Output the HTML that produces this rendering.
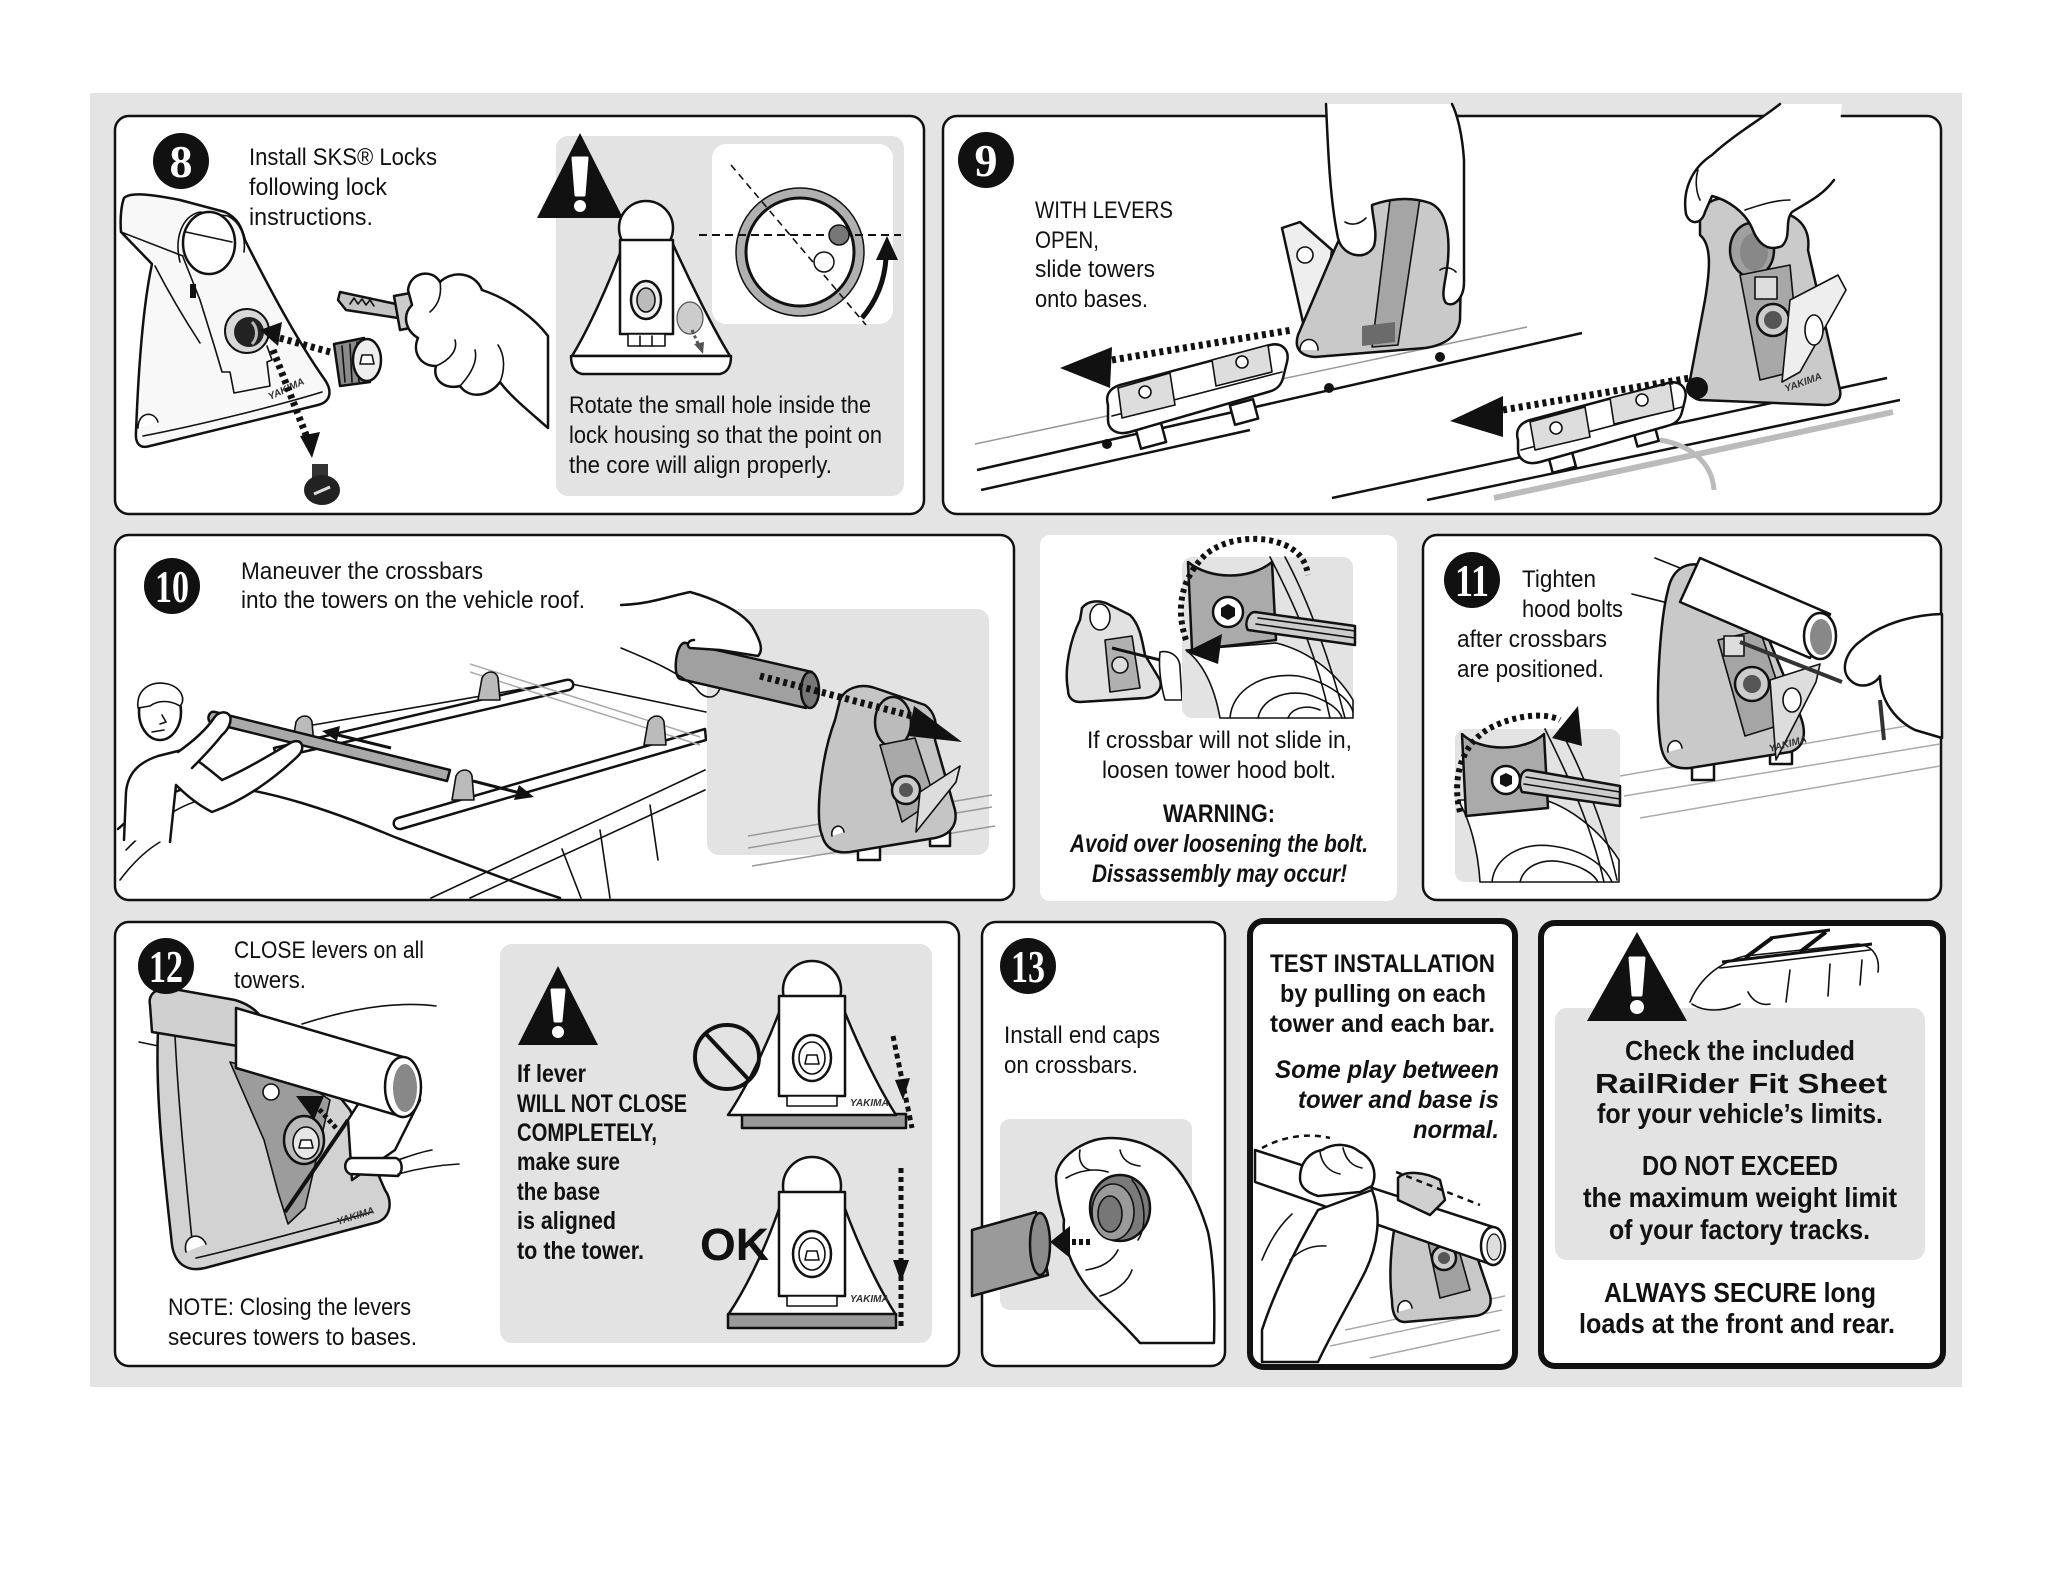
<!DOCTYPE html>
<html>
<head>
<meta charset="utf-8">
<style>
html,body{margin:0;padding:0;background:#fff;}
svg{display:block;}
text{font-family:"Liberation Sans Narrow","Liberation Sans",Arial,sans-serif;fill:#111;}
.t{font-size:24px;}
.tb{font-size:25px;font-weight:bold;}
.ti{font-size:25px;font-weight:bold;font-style:italic;}
.ck{font-size:28px;font-weight:bold;}
.bd{font-family:"Liberation Serif",serif;font-weight:bold;fill:#fff;font-size:46px;}
.s{stroke:#111;stroke-width:2.5;stroke-linejoin:round;stroke-linecap:round;}
.s1{stroke:#111;stroke-width:1.6;stroke-linejoin:round;stroke-linecap:round;}
.dot{stroke:#111;stroke-width:7;stroke-dasharray:4 4;fill:none;}
.yk{font-family:"Liberation Sans",sans-serif;font-size:10px;font-weight:bold;font-style:italic;fill:#333;}
</style>
</head>
<body>
<svg xmlns="http://www.w3.org/2000/svg" width="2048" height="1583" viewBox="0 0 2048 1583">
<rect x="0" y="0" width="2048" height="1583" fill="#fff"/>
<rect x="90" y="93" width="1872" height="1294" fill="#e4e4e4"/>

<!-- ================= PANEL 8 ================= -->
<rect x="115" y="116" width="809" height="398" rx="14" fill="#fff" class="s" stroke-width="3"/>
<circle cx="181" cy="161" r="28" fill="#111"/>
<text class="bd" x="181" y="177" text-anchor="middle">8</text>

<!-- tower left -->
<path class="s" fill="#f8f8f8" d="M124,198 C130,192 150,194 180,200 L225,212 C238,218 242,228 245,240 C270,290 300,345 325,380 C333,392 330,402 318,405 L150,446 C140,449 135,444 136,432 C138,380 142,310 152,264 L121,232 C120,220 121,206 124,198 Z"/>
<path class="s1" fill="none" d="M121,232 L183,256"/>
<path class="s1" fill="none" d="M180,262 C174,238 182,216 200,212 L228,216 C240,222 246,236 244,252"/>
<ellipse class="s" cx="209" cy="243" rx="26" ry="31" fill="#fff"/>
<path class="s1" fill="none" d="M186,232 L232,242"/>
<path class="s1" fill="none" d="M155,266 C170,295 185,320 200,343"/>
<path class="s1" fill="none" d="M183,257 L200,300 L214,345 L222,372 L230,372 L234,393 L270,386 L267,362 L272,360 L267,346"/>
<rect x="190" y="284" width="6" height="14" fill="#111"/>
<path class="s1" fill="none" d="M143,436 C200,425 280,405 322,392"/>
<path class="s1" fill="#fff" d="M138,428 C138,412 154,410 158,422"/>
<circle cx="247" cy="331" r="22" fill="#d8d8d8" stroke="#111" stroke-width="2"/>
<circle cx="249" cy="332" r="15" fill="#222"/>
<path d="M252,322 C258,328 258,338 252,344" stroke="#bbb" stroke-width="3" fill="none"/>
<text class="yk" x="270" y="400" font-size="11" transform="rotate(-25 270 400)">YAKIMA</text>
<!-- dotted arrows -->
<line class="dot" x1="330" y1="352" x2="276" y2="337"/>
<polygon points="260,330 282,322 278,346" fill="#111"/>
<line class="dot" x1="273" y1="350" x2="308" y2="440"/>
<polygon points="312,458 300,436 320,432" fill="#111"/>
<!-- lock cylinder -->
<path class="s" fill="#8a8a8a" d="M334,344 L364,338 L370,382 L340,386 Z"/>
<path class="s1" fill="none" d="M342,346 L345,382 M350,344 L352,382 M357,342 L359,382"/>
<ellipse class="s" cx="367" cy="360" rx="14" ry="21" fill="#eee"/>
<path class="s1" fill="#fff" d="M360,364 L362,355 L372,355 L374,364 Z"/>
<!-- black knob -->
<rect x="312" y="464" width="16" height="18" fill="#333"/>
<ellipse cx="322" cy="490" rx="18" ry="15" fill="#222"/>
<line x1="314" y1="494" x2="330" y2="487" stroke="#ddd" stroke-width="3"/>
<!-- key -->
<path class="s" fill="#c4c4c4" d="M340,292 L396,304 L398,318 L346,310 L338,300 Z"/>
<path class="s1" fill="none" d="M350,304 L354,298 L358,304 L362,299 L366,305 L370,300 L374,306"/>
<path class="s" fill="#ccc" d="M394,296 L416,292 L420,326 L400,330 Z"/>
<!-- hand -->
<path class="s" fill="#fff" d="M408,290 C410,272 432,268 440,282 C452,270 475,272 482,290 C512,300 536,320 548,336 L548,428 C530,412 510,396 500,382 C490,396 470,400 460,386 C445,390 432,380 436,366 C420,366 412,352 418,338 C405,330 402,315 412,305 Z"/>
<path class="s1" fill="none" d="M436,366 C450,360 458,350 455,340 M460,386 C470,375 478,362 475,350 M500,382 C505,370 505,355 498,345 M440,282 C442,295 438,305 430,312"/>

<text class="t" x="249" y="165" textLength="188" lengthAdjust="spacingAndGlyphs">Install  SKS® Locks</text>
<text class="t" x="249" y="195" textLength="138" lengthAdjust="spacingAndGlyphs">following lock</text>
<text class="t" x="249" y="225" textLength="124" lengthAdjust="spacingAndGlyphs">instructions.</text>

<!-- inset -->
<rect x="556" y="136" width="348" height="360" rx="12" fill="#e3e3e3"/>
<polygon points="580,133 623,218 537,218" fill="#111"/>
<polygon points="573,158 587,158 584,195 576,195" fill="#fff" stroke="#fff" stroke-width="3" stroke-linejoin="round"/>
<circle cx="580" cy="206" r="6" fill="#fff"/>
<!-- front tower -->
<path class="s" fill="#fff" d="M624,242 C610,282 588,330 572,356 L730,356 C714,330 690,282 672,242 Z"/>
<circle class="s" cx="646" cy="228" r="27" fill="#fff"/>
<rect class="s" x="620" y="240" width="53" height="94" fill="#fff"/>
<rect class="s1" x="628" y="334" width="37" height="12" fill="#fff"/>
<path class="s1" fill="none" d="M640,336 L640,346 M652,336 L652,346"/>
<ellipse class="s" cx="646" cy="300" rx="15" ry="19" fill="#eee"/>
<ellipse class="s1" cx="646" cy="300" rx="9" ry="12" fill="#bbb"/>
<path class="s" fill="#fff" d="M571,356 L731,356 C731,366 728,372 720,374 L582,374 C574,372 571,366 571,356 Z"/>
<ellipse cx="690" cy="318" rx="13" ry="16" fill="#ccc" stroke="#555" stroke-width="1.2"/>
<path d="M692,330 L700,348" stroke="#555" stroke-width="3" stroke-dasharray="3 3"/>
<polygon points="703,354 694,344 704,342" fill="#555"/>
<!-- white inset -->
<rect x="712" y="144" width="181" height="180" rx="14" fill="#fff"/>
<circle cx="800" cy="252" r="64" fill="#b0b0b0" stroke="#111" stroke-width="1.5"/>
<circle cx="800" cy="252" r="54" fill="#fff" stroke="#111" stroke-width="3"/>
<line x1="699" y1="235" x2="901" y2="235" stroke="#111" stroke-width="2" stroke-dasharray="8 5"/>
<line x1="731" y1="165" x2="866" y2="325" stroke="#111" stroke-width="1.6" stroke-dasharray="7 5"/>
<circle cx="839" cy="235" r="10" fill="#777" stroke="#111" stroke-width="1.5"/>
<circle cx="824" cy="262" r="10" fill="#fff" stroke="#111" stroke-width="1.5"/>
<path d="M862,318 Q884,292 886,258" stroke="#111" stroke-width="5" fill="none"/>
<polygon points="887,236 876,260 898,260" fill="#111"/>
<text class="t" x="569" y="413" textLength="302" lengthAdjust="spacingAndGlyphs">Rotate the small hole inside the</text>
<text class="t" x="569" y="443" textLength="313" lengthAdjust="spacingAndGlyphs">lock housing so that the point on</text>
<text class="t" x="569" y="473" textLength="263" lengthAdjust="spacingAndGlyphs">the core will align properly.</text>

<!-- ================= PANEL 9 ================= -->
<rect x="943" y="116" width="998" height="398" rx="14" fill="#fff" class="s" stroke-width="3"/>
<circle cx="986" cy="160" r="28" fill="#111"/>
<text class="bd" x="986" y="176" text-anchor="middle">9</text>
<text class="t" x="1035" y="218" textLength="138" lengthAdjust="spacingAndGlyphs">WITH LEVERS</text>
<text class="t" x="1035" y="248" textLength="64" lengthAdjust="spacingAndGlyphs">OPEN,</text>
<text class="t" x="1035" y="277" textLength="120" lengthAdjust="spacingAndGlyphs">slide towers</text>
<text class="t" x="1035" y="307" textLength="113" lengthAdjust="spacingAndGlyphs">onto bases.</text>
<!-- rails -->
<line x1="975" y1="444" x2="1527" y2="327" stroke="#999" stroke-width="1.5"/>
<line x1="977" y1="470" x2="1582" y2="333" stroke="#111" stroke-width="2.5"/>
<line x1="981" y1="490" x2="1250" y2="430" stroke="#111" stroke-width="2.5"/>
<line x1="1332" y1="498" x2="1887" y2="378" stroke="#111" stroke-width="2.5"/>
<line x1="1427" y1="500" x2="1900" y2="400" stroke="#111" stroke-width="2.5"/>
<line x1="1494" y1="498" x2="1893" y2="412" stroke="#bbb" stroke-width="6"/>
<path d="M1660,440 C1690,445 1712,462 1714,490" stroke="#bbb" stroke-width="5" fill="none"/>
<circle cx="1107" cy="444" r="5" fill="#111"/>
<circle cx="1329" cy="388" r="5" fill="#111"/>
<circle cx="1440" cy="357" r="5" fill="#111"/>
<!-- base 1 -->
<rect class="s" x="1138" y="426" width="26" height="20" fill="#fff" transform="rotate(-15 1150 436)"/>
<rect class="s" x="1232" y="402" width="24" height="20" fill="#fff" transform="rotate(-15 1244 412)"/>
<path class="s" fill="#fff" d="M1108,405 C1105,395 1110,388 1120,385 L1270,345 C1282,342 1290,350 1287,362 L1283,378 C1281,386 1276,390 1268,392 L1130,432 C1115,436 1108,428 1108,420 Z"/>
<path class="s1" fill="none" d="M1112,416 L1282,372"/>
<polygon class="s1" points="1118,388 1170,373 1175,405 1122,418" fill="#ddd"/>
<polygon class="s1" points="1212,360 1268,345 1272,372 1216,386" fill="#ddd"/>
<circle class="s1" cx="1145" cy="392" r="6" fill="#fff"/>
<circle class="s1" cx="1242" cy="362" r="6" fill="#fff"/>
<line class="dot" x1="1112" y1="360" x2="1292" y2="330"/>
<polygon points="1060,368 1112,347 1110,388" fill="#111"/>
<!-- tower 1 -->
<path class="s" fill="#eee" d="M1282,228 L1300,222 L1332,250 L1322,330 L1306,336 Z"/>
<circle class="s1" cx="1305" cy="255" r="8" fill="#fff"/>
<path class="s" fill="#c9c9c9" d="M1298,335 L1330,260 C1345,225 1360,195 1375,188 L1420,186 C1445,188 1460,200 1462,220 L1460,320 C1458,336 1445,345 1425,348 L1315,357 C1300,356 1294,348 1298,335 Z"/>
<polygon class="s1" points="1390,200 1420,198 1398,345 1372,347" fill="#a5a5a5"/>
<polygon points="1362,326 1395,322 1395,342 1362,346" fill="#6b6b6b"/>
<path class="s1" fill="#fff" d="M1300,350 C1300,336 1318,336 1318,350"/>
<!-- hand 1 -->
<path fill="#fff" d="M1326,104 C1328,150 1330,200 1338,238 C1342,256 1366,262 1374,246 C1378,232 1372,216 1372,205 C1392,198 1412,197 1430,203 C1446,210 1450,232 1448,260 C1446,282 1440,295 1446,303 C1454,308 1464,298 1464,282 L1464,160 C1462,130 1456,112 1452,104 Z"/>
<path class="s" fill="none" d="M1326,104 C1328,150 1330,200 1338,238 C1342,256 1366,262 1374,246 C1378,232 1372,216 1372,205 C1392,198 1412,197 1430,203 C1446,210 1450,232 1448,260 C1446,282 1440,295 1446,303 C1454,308 1464,298 1464,282 L1464,160 C1462,130 1456,112 1452,104"/>
<path class="s1" fill="none" d="M1345,222 C1352,226 1360,224 1366,218 M1440,270 C1446,266 1452,268 1456,272"/>
<!-- base 2 -->
<rect class="s" x="1550" y="452" width="24" height="18" fill="#fff" transform="rotate(-15 1562 461)"/>
<rect class="s" x="1635" y="428" width="22" height="16" fill="#fff" transform="rotate(-15 1646 436)"/>
<path class="s" fill="#fff" d="M1518,440 C1515,430 1520,423 1530,420 L1668,383 C1680,380 1688,388 1685,400 L1682,412 C1680,420 1675,424 1667,426 L1540,462 C1525,466 1518,458 1518,450 Z"/>
<path class="s1" fill="none" d="M1521,450 L1682,407"/>
<polygon class="s1" points="1530,422 1585,407 1590,437 1535,450" fill="#ddd"/>
<polygon class="s1" points="1610,398 1670,383 1674,410 1614,424" fill="#ddd"/>
<circle class="s1" cx="1556" cy="428" r="6" fill="#fff"/>
<circle class="s1" cx="1642" cy="400" r="6" fill="#fff"/>
<line class="dot" x1="1503" y1="410" x2="1690" y2="378"/>
<polygon points="1450,421 1503,396 1503,437" fill="#111"/>
<!-- tower 2 -->
<path class="s" fill="#cacaca" d="M1700,400 C1690,398 1688,390 1690,380 L1705,300 C1710,270 1712,245 1700,235 L1700,215 C1705,200 1720,195 1740,200 L1790,215 C1805,222 1810,235 1808,250 L1840,390 C1842,400 1835,405 1825,405 Z"/>
<ellipse class="s" cx="1752" cy="250" rx="22" ry="27" fill="#a0a0a0"/>
<ellipse cx="1754" cy="252" rx="14" ry="19" fill="#888"/>
<polygon class="s1" points="1740,275 1790,265 1800,370 1760,380" fill="#a8a8a8"/>
<rect class="s1" x="1755" y="277" width="22" height="22" fill="#ddd"/>
<circle class="s" cx="1773" cy="320" r="16" fill="#ccc"/>
<circle cx="1773" cy="320" r="9" fill="#555"/>
<polygon class="s1" points="1790,300 1838,275 1846,290 1800,372 1782,382" fill="#eee"/>
<ellipse class="s1" cx="1814" cy="330" rx="9" ry="15" fill="#fff"/>
<circle cx="1697" cy="388" r="11" fill="#111"/>
<text class="yk" x="1786" y="392" transform="rotate(-20 1786 392)">YAKIMA</text>
<!-- hand 2 -->
<path fill="#fff" d="M1780,104 C1760,120 1732,136 1712,155 C1692,168 1682,190 1686,214 C1690,226 1702,224 1705,212 L1712,196 C1728,200 1745,212 1752,228 C1758,244 1768,252 1782,246 C1792,236 1784,222 1792,212 C1808,202 1822,196 1834,180 L1842,104 Z"/>
<path class="s" fill="none" d="M1780,104 C1760,120 1732,136 1712,155 C1692,168 1682,190 1686,214 C1690,226 1702,224 1705,212 L1712,196 C1728,200 1745,212 1752,228 C1758,244 1768,252 1782,246 C1792,236 1784,222 1792,212 C1808,202 1822,196 1834,180"/>
<path class="s1" fill="none" d="M1698,170 C1695,180 1696,192 1700,200 M1745,210 C1760,205 1775,200 1790,200"/>

<!-- ================= PANEL 10 ================= -->
<rect x="115" y="535" width="899" height="365" rx="14" fill="#fff" class="s" stroke-width="3"/>
<circle cx="172" cy="586" r="28" fill="#111"/>
<text class="bd" x="155" y="602" font-size="44" textLength="34" lengthAdjust="spacingAndGlyphs">10</text>
<text class="t" x="241" y="579" textLength="242" lengthAdjust="spacingAndGlyphs">Maneuver the crossbars</text>
<text class="t" x="241" y="608" textLength="344" lengthAdjust="spacingAndGlyphs">into the towers on the vehicle roof.</text>
<!-- car -->
<path class="s" fill="none" d="M118,829 C150,800 180,786 209,784 C270,790 330,810 392,836 C460,862 520,885 560,898"/>
<path class="s1" fill="none" d="M126,850 C160,815 190,800 212,798 M313,725 L562,682 L706,712 M431,898 L705,770 M470,898 L705,790 M562,849 L581,898 M600,830 L610,898 M650,805 L658,860 M120,880 C135,860 150,848 160,842"/>
<!-- rails -->
<path class="s" fill="#fff" d="M274,748 L566,680 C574,678 576,688 569,690 L277,758 Z"/>
<path class="s" fill="#fff" d="M398,818 L705,729 L706,740 L401,829 C393,830 391,820 398,818 Z"/>
<line x1="470" y1="664" x2="700" y2="737" stroke="#aaa" stroke-width="1.5"/>
<line x1="470" y1="672" x2="700" y2="745" stroke="#aaa" stroke-width="1.5"/>
<!-- small towers -->
<path class="s1" fill="#bbb" d="M478,700 L482,678 C486,670 496,670 498,678 L500,700 Z"/>
<path class="s1" fill="#bbb" d="M644,745 L648,722 C652,714 662,714 664,722 L666,745 Z"/>
<path class="s1" fill="#bbb" d="M452,800 L456,776 C460,768 470,768 472,776 L474,800 Z"/>
<path class="s1" fill="#bbb" d="M292,745 L296,722 C300,714 310,714 312,722 L314,745 Z"/>
<!-- crossbar held -->
<path class="s" fill="#a9a9a9" d="M215,712 L450,770 L447,781 L212,723 C206,722 208,710 215,712 Z"/>
<!-- arrows -->
<line x1="391" y1="748" x2="334" y2="734" stroke="#111" stroke-width="3"/>
<polygon points="322,731 340,726 337,741" fill="#111"/>
<line x1="473" y1="781" x2="520" y2="793" stroke="#111" stroke-width="3"/>
<polygon points="534,797 514,800 519,785" fill="#111"/>
<!-- person -->
<path class="s" fill="#fff" d="M124,840 L126,792 C128,772 140,762 158,756 L182,750 C195,758 210,770 222,780 C245,770 270,755 292,742 C302,738 306,748 298,756 C275,778 245,800 212,812 C198,805 186,795 176,785 L170,842"/>
<path class="s" fill="#fff" d="M178,752 C192,742 206,730 214,718 C218,712 226,710 230,716 C232,722 228,730 222,735 C212,748 202,758 192,768"/>
<ellipse class="s" cx="160" cy="712" rx="21" ry="28" fill="#fff"/>
<path class="s1" fill="#fff" d="M138,708 C136,690 150,680 168,684 C182,688 186,700 180,706 C170,700 158,700 150,706 Z"/>
<path class="s1" fill="none" d="M162,715 L166,722 L160,724 M152,732 L164,730"/>
<!-- inset -->
<rect x="707" y="609" width="282" height="246" rx="12" fill="#e3e3e3"/>
<line x1="748" y1="836" x2="992" y2="795" stroke="#999" stroke-width="1.5"/>
<line x1="748" y1="848" x2="992" y2="807" stroke="#999" stroke-width="1.5"/>
<line x1="752" y1="866" x2="995" y2="826" stroke="#999" stroke-width="1.5"/>
<rect class="s" x="858" y="846" width="22" height="14" fill="#fff"/>
<rect class="s" x="930" y="832" width="20" height="14" fill="#fff"/>
<path class="s" fill="#c5c5c5" d="M822,835 C815,820 820,760 835,720 L840,700 C845,688 860,683 875,688 L925,705 C935,712 938,725 935,740 L955,810 C958,825 950,835 935,838 L850,852 C835,854 825,848 822,835 Z"/>
<ellipse class="s" cx="893" cy="722" rx="18" ry="25" fill="#bbb"/>
<polygon class="s1" points="880,745 915,738 935,800 902,822" fill="#a9a9a9"/>
<circle class="s" cx="906" cy="790" r="14" fill="#ccc"/>
<circle cx="906" cy="790" r="7" fill="#555"/>
<polygon class="s1" points="920,792 960,766 956,782 916,832" fill="#ddd"/>
<path class="s1" fill="#fff" d="M832,836 C830,826 842,822 844,832"/>
<!-- held tube -->
<path class="s" fill="#a0a0a0" d="M686,643 L812,672 L806,708 L680,679 C672,676 676,640 686,643 Z"/>
<ellipse class="s" cx="810" cy="690" rx="9" ry="18" fill="#777"/>
<line class="dot" x1="760" y1="676" x2="912" y2="716" stroke-width="6"/>
<polygon points="962,742 914,706 908,736" fill="#111"/>
<!-- hands -->
<path class="s" fill="#fff" d="M621,605 C650,604 670,596 690,592 C712,598 740,610 752,626 C760,640 764,650 758,656 L720,650 L690,648 C686,646 688,640 694,640"/>
<path class="s1" fill="none" d="M621,648 C650,660 678,672 696,688 C704,700 716,700 720,688"/>

<!-- ================= MIDDLE BOX ================= -->
<rect x="1040" y="535" width="357" height="366" rx="10" fill="#fff"/>
<path class="s" fill="#e2e2e2" d="M1068,690 C1064,670 1070,640 1080,620 L1082,608 C1088,600 1100,600 1108,604 L1130,615 C1140,625 1142,640 1145,655 L1160,680 C1163,690 1155,697 1145,698 L1080,702 C1072,702 1068,697 1068,690 Z"/>
<ellipse class="s1" cx="1100" cy="617" rx="10" ry="13" fill="#fff"/>
<polygon class="s1" points="1105,640 1132,636 1140,688 1110,692" fill="#b0b0b0"/>
<circle class="s1" cx="1120" cy="665" r="8" fill="#ddd"/>
<line x1="1112" y1="648" x2="1168" y2="662" stroke="#111" stroke-width="3"/>
<path class="s1" fill="#fff" d="M1160,652 C1170,650 1180,656 1180,668 L1182,700 L1165,700 C1162,690 1158,670 1160,652 Z"/>
<rect x="1182" y="557" width="171" height="161" rx="10" fill="#e3e3e3"/>
<path class="s1" fill="#fff" d="M1186,650 C1205,665 1215,690 1220,718 L1353,718 L1353,700 C1335,670 1305,650 1276,643 Z"/>
<path class="s1" fill="none" d="M1230,718 C1232,690 1262,672 1298,676 C1330,682 1350,700 1353,712 M1258,718 C1262,700 1282,690 1306,694 C1328,700 1340,710 1342,718 M1288,718 C1292,708 1306,704 1320,710"/>
<path class="s1" fill="none" d="M1270,557 C1292,600 1316,650 1330,718 M1285,557 C1308,600 1330,660 1345,718"/>
<path class="s" fill="#aaa" d="M1188,562 C1210,580 1250,580 1272,562 L1276,640 L1192,650 Z"/>
<circle class="s" cx="1228" cy="612" r="15" fill="#fff"/>
<polygon points="1228,604 1235,608 1235,616 1228,620 1221,616 1221,608" fill="#111"/>
<path class="s" fill="#ccc" d="M1255,612 L1355,626 L1355,645 L1248,630 C1244,624 1248,612 1255,612 Z"/>
<path class="s1" fill="none" d="M1258,618 L1355,631 M1256,624 L1355,638"/>
<path d="M1186,640 C1176,610 1180,580 1205,555 C1225,538 1260,534 1285,545 C1300,552 1306,562 1308,575" stroke="#111" stroke-width="6" stroke-dasharray="4 4" fill="none"/>
<polygon points="1186,652 1222,634 1218,664" fill="#111"/>
<text class="t" x="1087" y="748" textLength="265" lengthAdjust="spacingAndGlyphs">If crossbar will not slide in,</text>
<text class="t" x="1102" y="778" textLength="234" lengthAdjust="spacingAndGlyphs">loosen tower hood bolt.</text>
<text class="tb" x="1163" y="822" textLength="112" lengthAdjust="spacingAndGlyphs">WARNING:</text>
<text class="ti" x="1070" y="852" textLength="298" lengthAdjust="spacingAndGlyphs">Avoid over loosening the bolt.</text>
<text class="ti" x="1092" y="882" textLength="255" lengthAdjust="spacingAndGlyphs">Dissassembly may occur!</text>

<!-- ================= PANEL 11 ================= -->
<rect x="1423" y="535" width="518" height="365" rx="14" fill="#fff" class="s" stroke-width="3"/>
<circle cx="1472" cy="580" r="28" fill="#111"/>
<text class="bd" x="1455" y="596" font-size="44" textLength="34" lengthAdjust="spacingAndGlyphs">11</text>
<text class="t" x="1522" y="587" textLength="74" lengthAdjust="spacingAndGlyphs">Tighten</text>
<text class="t" x="1522" y="617" textLength="101" lengthAdjust="spacingAndGlyphs">hood bolts</text>
<text class="t" x="1457" y="647" textLength="150" lengthAdjust="spacingAndGlyphs">after crossbars</text>
<text class="t" x="1457" y="677" textLength="147" lengthAdjust="spacingAndGlyphs">are positioned.</text>
<line x1="1620" y1="776" x2="1940" y2="720" stroke="#aaa" stroke-width="1.5"/>
<line x1="1624" y1="796" x2="1940" y2="744" stroke="#aaa" stroke-width="1.5"/>
<line x1="1640" y1="818" x2="1940" y2="766" stroke="#aaa" stroke-width="1.5"/>
<rect class="s" x="1692" y="764" width="22" height="16" fill="#fff"/>
<rect class="s" x="1770" y="748" width="22" height="16" fill="#fff"/>
<path class="s1" fill="none" d="M1655,558 L1700,576 M1632,594 L1680,606"/>
<path class="s" fill="#c9c9c9" d="M1660,740 C1655,700 1660,620 1668,590 C1672,570 1685,562 1700,565 L1745,580 C1760,590 1765,610 1765,630 L1800,715 C1808,735 1803,748 1790,752 L1690,768 C1670,770 1662,760 1660,740 Z"/>
<polygon class="s1" points="1718,640 1760,630 1790,722 1745,736" fill="#a5a5a5"/>
<rect class="s1" x="1724" y="636" width="20" height="20" fill="#ddd"/>
<circle class="s" cx="1752" cy="684" r="17" fill="#ccc"/>
<circle cx="1752" cy="684" r="9" fill="#555"/>
<polygon class="s1" points="1770,680 1820,664 1816,682 1776,760" fill="#ddd"/>
<ellipse class="s1" cx="1792" cy="700" rx="9" ry="12" fill="#fff"/>
<path class="s1" fill="#fff" d="M1668,752 C1666,740 1680,736 1682,748"/>
<text class="yk" x="1770" y="752" transform="rotate(-15 1770 752)">YAKIMA</text>
<path class="s" fill="#fff" d="M1700,558 L1830,614 L1810,658 L1680,602 Z"/>
<ellipse class="s" cx="1820" cy="636" rx="16" ry="23" fill="#fff"/>
<ellipse cx="1821" cy="637" rx="11" ry="18" fill="#888"/>
<line x1="1740" y1="642" x2="1842" y2="682" stroke="#333" stroke-width="4"/>
<path class="s" fill="#fff" d="M1942,614 C1910,615 1880,625 1862,640 C1845,652 1840,670 1850,680 C1860,690 1875,685 1880,676 C1880,700 1895,720 1915,730 L1942,738 Z"/>
<line x1="1880" y1="700" x2="1884" y2="740" stroke="#333" stroke-width="4"/>
<!-- inset -->
<rect x="1455" y="729" width="165" height="153" rx="10" fill="#e3e3e3"/>
<path class="s1" fill="#fff" d="M1458,800 C1470,820 1478,850 1480,882 L1619,882 L1619,860 C1600,830 1570,808 1545,800 Z"/>
<path class="s1" fill="none" d="M1492,882 C1494,858 1520,842 1552,846 C1585,850 1605,866 1612,882 M1520,882 C1524,866 1542,858 1562,862 C1582,866 1594,874 1598,882"/>
<path class="s1" fill="none" d="M1545,729 C1565,770 1590,820 1604,882 M1560,729 C1582,770 1606,830 1617,880"/>
<path class="s" fill="#aaa" d="M1462,734 C1480,752 1525,752 1544,734 L1548,808 L1466,816 Z"/>
<circle class="s" cx="1506" cy="780" r="14" fill="#fff"/>
<polygon points="1506,773 1512,776 1512,784 1506,787 1500,784 1500,776" fill="#111"/>
<path class="s" fill="#ccc" d="M1528,770 L1620,786 L1620,806 L1522,792 C1518,784 1520,770 1528,770 Z"/>
<path class="s1" fill="none" d="M1526,777 L1620,792 M1524,784 L1620,799"/>
<path d="M1460,812 C1452,780 1460,745 1490,728 C1515,715 1545,712 1560,720" stroke="#111" stroke-width="6" stroke-dasharray="4 4" fill="none"/>
<polygon points="1578,706 1552,738 1582,746" fill="#111"/>

<!-- ================= PANEL 12 ================= -->
<rect x="115" y="922" width="844" height="444" rx="14" fill="#fff" class="s" stroke-width="3"/>
<text class="t" x="234" y="958" textLength="190" lengthAdjust="spacingAndGlyphs">CLOSE levers on all</text>
<text class="t" x="234" y="988" textLength="72" lengthAdjust="spacingAndGlyphs">towers.</text>
<!-- tower -->
<path class="s1" fill="none" d="M139,1042 L236,1062"/>
<path class="s" fill="#d2d2d2" d="M158,1030 C155,1100 165,1180 172,1245 C175,1265 188,1272 205,1268 L378,1222 C392,1216 392,1200 385,1190 L350,1110 L330,1085 L265,1030 Z"/>
<path class="s1" fill="none" d="M175,1035 C178,1100 186,1180 192,1240 M196,1258 C240,1248 320,1226 372,1212"/>
<path class="s1" fill="#fff" d="M186,1252 C182,1236 200,1230 206,1244"/>
<path class="s1" fill="#9c9c9c" d="M230,1062 L300,1080 L330,1100 L305,1208 L288,1224 L278,1192 L264,1140 Z"/>
<ellipse class="s" cx="304" cy="1140" rx="20" ry="24" fill="#bbb"/>
<ellipse class="s1" cx="306" cy="1143" rx="13" ry="16" fill="#e6e6e6"/>
<path class="s1" fill="#fff" d="M299,1148 L301,1140 L311,1140 L313,1148 Z"/>
<circle class="s1" cx="271" cy="1092" r="8" fill="#fff"/>
<line x1="285" y1="1212" x2="348" y2="1120" stroke="#111" stroke-width="4"/>
<path class="s" fill="#fff" d="M348,1120 L362,1098 L400,1110 L420,1100 L395,1150 L352,1180 Z"/>
<path class="s" fill="#d0d0d0" d="M150,1005 C148,995 155,988 168,988 L235,1000 C252,1005 262,1015 265,1025 L250,1048 L152,1032 Z"/>
<path class="s" fill="#fff" d="M236,1008 L403,1057 L403,1117 L236,1068 Z"/>
<ellipse class="s" cx="403" cy="1087" rx="18" ry="30" fill="#fff"/>
<ellipse cx="405" cy="1088" rx="12" ry="24" fill="#888"/>
<line x1="336" y1="1128" x2="318" y2="1108" stroke="#111" stroke-width="5" stroke-dasharray="4 3"/>
<polygon points="296,1096 324,1096 314,1120" fill="#111"/>
<text class="yk" x="338" y="1225" transform="rotate(-18 338 1225)" font-size="11">YAKIMA</text>
<!-- hands -->
<path class="s1" fill="none" d="M302,1024 C340,1012 390,1000 436,1006"/>
<path class="s" fill="#fff" d="M352,1158 C345,1158 342,1170 350,1174 L398,1176 C404,1170 402,1160 396,1158 Z"/>
<path class="s1" fill="none" d="M398,1174 C420,1168 440,1165 459,1164 M398,1160 C410,1156 420,1152 432,1150"/>
<circle cx="166" cy="966" r="28" fill="#111"/>
<text class="bd" x="149" y="982" font-size="44" textLength="34" lengthAdjust="spacingAndGlyphs">12</text>
<text class="t" x="168" y="1315" textLength="243" lengthAdjust="spacingAndGlyphs">NOTE: Closing the levers</text>
<text class="t" x="168" y="1345" textLength="249" lengthAdjust="spacingAndGlyphs">secures towers to bases.</text>
<!-- inset -->
<rect x="500" y="944" width="432" height="399" rx="12" fill="#e3e3e3"/>
<polygon points="558,966 598,1045 518,1045" fill="#111"/>
<polygon points="552,990 564,990 561,1021 555,1021" fill="#fff" stroke="#fff" stroke-width="3" stroke-linejoin="round"/>
<circle cx="558" cy="1032" r="6" fill="#fff"/>
<text class="tb" x="517" y="1082" textLength="69" lengthAdjust="spacingAndGlyphs">If lever</text>
<text class="tb" x="517" y="1112" textLength="170" lengthAdjust="spacingAndGlyphs">WILL NOT CLOSE</text>
<text class="tb" x="517" y="1141" textLength="140" lengthAdjust="spacingAndGlyphs">COMPLETELY,</text>
<text class="tb" x="517" y="1170" textLength="103" lengthAdjust="spacingAndGlyphs">make sure</text>
<text class="tb" x="517" y="1200" textLength="83" lengthAdjust="spacingAndGlyphs">the base</text>
<text class="tb" x="517" y="1229" textLength="99" lengthAdjust="spacingAndGlyphs">is aligned</text>
<text class="tb" x="517" y="1259" textLength="127" lengthAdjust="spacingAndGlyphs">to the tower.</text>
<!-- top front tower (misaligned) -->
<rect class="s" x="742" y="1114" width="164" height="14" fill="#999"/>
<path class="s" fill="#fff" d="M780,1010 C765,1050 745,1090 728,1115 L896,1115 C880,1090 860,1050 844,1010 Z"/>
<circle class="s" cx="812" cy="990" r="29" fill="#fff"/>
<rect class="s" x="779" y="996" width="66" height="100" fill="#fff"/>
<rect class="s1" x="787" y="1096" width="50" height="10" fill="#fff"/>
<ellipse class="s" cx="812" cy="1058" rx="19" ry="23" fill="#fff"/>
<ellipse class="s1" cx="812" cy="1058" rx="13" ry="16" fill="#fff"/>
<path class="s1" fill="#fff" d="M805,1064 L807,1055 L817,1055 L819,1064 Z"/>
<text class="yk" x="850" y="1106">YAKIMA</text>
<circle cx="727" cy="1057" r="32" fill="none" stroke="#111" stroke-width="4"/>
<line x1="705" y1="1033" x2="750" y2="1081" stroke="#111" stroke-width="4"/>
<line x1="893" y1="1036" x2="912" y2="1128" stroke="#111" stroke-width="5" stroke-dasharray="5 4"/>
<polygon points="903,1100 895,1080 910,1078" fill="#111"/>
<!-- bottom front tower (ok) -->
<path class="s" fill="#fff" d="M780,1206 C765,1250 745,1290 728,1315 L896,1315 C880,1290 860,1250 844,1206 Z"/>
<circle class="s" cx="812" cy="1186" r="29" fill="#fff"/>
<rect class="s" x="779" y="1192" width="66" height="104" fill="#fff"/>
<rect class="s1" x="787" y="1296" width="50" height="10" fill="#fff"/>
<ellipse class="s" cx="812" cy="1254" rx="19" ry="23" fill="#fff"/>
<ellipse class="s1" cx="812" cy="1254" rx="13" ry="16" fill="#fff"/>
<path class="s1" fill="#fff" d="M805,1260 L807,1251 L817,1251 L819,1260 Z"/>
<text class="yk" x="850" y="1302">YAKIMA</text>
<rect class="s" x="728" y="1314" width="168" height="14" fill="#999"/>
<line x1="901" y1="1168" x2="901" y2="1330" stroke="#111" stroke-width="5" stroke-dasharray="5 4"/>
<polygon points="901,1282 893,1260 909,1260" fill="#111"/>
<text x="700" y="1260" font-family="Liberation Sans,Arial,sans-serif" font-weight="bold" font-size="45" textLength="69" lengthAdjust="spacingAndGlyphs">OK</text>

<!-- ================= PANEL 13 ================= -->
<rect x="982" y="922" width="243" height="444" rx="14" fill="#fff" class="s" stroke-width="3"/>
<circle cx="1028" cy="966" r="28" fill="#111"/>
<text class="bd" x="1011" y="982" font-size="44" textLength="34" lengthAdjust="spacingAndGlyphs">13</text>
<text class="t" x="1004" y="1043" textLength="156" lengthAdjust="spacingAndGlyphs">Install end caps</text>
<text class="t" x="1004" y="1073" textLength="134" lengthAdjust="spacingAndGlyphs">on crossbars.</text>
<rect x="1000" y="1119" width="192" height="191" rx="10" fill="#e3e3e3"/>
<path class="s" fill="#fff" d="M1056,1176 C1058,1160 1075,1146 1095,1140 C1115,1135 1140,1140 1155,1150 C1178,1162 1196,1192 1208,1232 C1214,1260 1215,1300 1214,1343 L1140,1343 C1120,1320 1095,1300 1082,1280 C1070,1262 1062,1240 1064,1220 C1060,1205 1056,1190 1056,1176 Z"/>
<path class="s1" fill="none" d="M1066,1178 C1080,1170 1095,1168 1108,1172 M1080,1150 C1078,1160 1082,1168 1090,1170 M1120,1150 C1122,1160 1130,1165 1140,1166 M1086,1270 C1100,1268 1112,1262 1118,1250 M1100,1296 C1115,1292 1128,1282 1132,1270"/>
<path class="s" fill="#9a9a9a" d="M972,1230 L1036,1212 L1048,1275 L972,1296 Z"/>
<ellipse class="s" cx="1040" cy="1244" rx="10" ry="31" fill="#8a8a8a"/>
<polygon points="1050,1242 1070,1226 1070,1258" fill="#111"/>
<line x1="1072" y1="1242" x2="1090" y2="1242" stroke="#111" stroke-width="6" stroke-dasharray="4 3"/>
<ellipse class="s" cx="1120" cy="1208" rx="30" ry="33" fill="#7a7a7a"/>
<ellipse class="s1" cx="1113" cy="1212" rx="21" ry="28" fill="#9a9a9a"/>
<ellipse class="s1" cx="1110" cy="1214" rx="12" ry="18" fill="#777"/>
<path class="s1" fill="none" d="M1132,1180 C1145,1195 1148,1225 1138,1240"/>

<!-- ================= TEST INSTALLATION ================= -->
<rect x="1250" y="921" width="265" height="446" rx="14" fill="#fff" stroke="#111" stroke-width="6"/>
<text class="tb" font-size="27" x="1270" y="972" textLength="225" lengthAdjust="spacingAndGlyphs">TEST INSTALLATION</text>
<text class="tb" font-size="26" x="1280" y="1002" textLength="206" lengthAdjust="spacingAndGlyphs">by pulling on each</text>
<text class="tb" font-size="26" x="1270" y="1032" textLength="225" lengthAdjust="spacingAndGlyphs">tower and each bar.</text>
<text class="ti" font-size="26" x="1275" y="1078" textLength="224" lengthAdjust="spacingAndGlyphs">Some play between</text>
<text class="ti" font-size="26" x="1298" y="1108" textLength="201" lengthAdjust="spacingAndGlyphs">tower and base is</text>
<text class="ti" font-size="26" x="1413" y="1138" textLength="86" lengthAdjust="spacingAndGlyphs">normal.</text>
<line x1="1345" y1="1330" x2="1505" y2="1296" stroke="#aaa" stroke-width="1.5"/>
<line x1="1330" y1="1346" x2="1502" y2="1310" stroke="#aaa" stroke-width="1.5"/>
<line x1="1370" y1="1358" x2="1500" y2="1330" stroke="#aaa" stroke-width="1.5"/>
<path class="s" fill="#c8c8c8" d="M1392,1300 C1388,1270 1392,1230 1400,1205 L1420,1195 L1450,1220 L1472,1242 L1490,1295 C1493,1308 1485,1315 1475,1316 L1405,1322 C1395,1322 1392,1312 1392,1300 Z"/>
<polygon class="s1" points="1425,1228 1455,1236 1470,1290 1440,1298" fill="#a0a0a0"/>
<circle class="s" cx="1444" cy="1258" r="12" fill="#ccc"/>
<circle cx="1444" cy="1258" r="6" fill="#555"/>
<path class="s1" fill="#fff" d="M1398,1312 C1396,1300 1410,1296 1412,1308"/>
<path class="s" fill="#fff" d="M1255,1150 L1493,1227 L1493,1265 L1255,1182 Z"/>
<ellipse class="s" cx="1493" cy="1246" rx="12" ry="19" fill="#fff"/>
<ellipse cx="1494" cy="1247" rx="7" ry="13" fill="#ddd" stroke="#111" stroke-width="1.2"/>
<path class="s" fill="#d0d0d0" d="M1398,1178 C1405,1170 1425,1172 1440,1180 L1445,1200 L1430,1215 L1398,1200 Z"/>
<path d="M1396,1172 L1480,1205" stroke="#111" stroke-width="2.5" stroke-dasharray="6 5" fill="none"/>
<path d="M1262,1148 C1280,1138 1305,1132 1330,1138" stroke="#111" stroke-width="2.5" stroke-dasharray="6 5" fill="none"/>
<path class="s" fill="#fff" d="M1262,1330 C1275,1290 1295,1250 1318,1210 L1372,1190 C1382,1215 1378,1245 1365,1272 C1350,1302 1332,1332 1318,1362 L1262,1362 Z"/>
<path class="s" fill="#fff" d="M1300,1178 C1300,1162 1310,1152 1322,1150 C1335,1142 1350,1144 1360,1152 C1372,1158 1378,1172 1372,1186 L1360,1192 L1318,1196 C1305,1192 1300,1186 1300,1178 Z"/>
<path class="s1" fill="none" d="M1320,1152 C1322,1165 1330,1172 1340,1174 M1343,1148 C1346,1160 1352,1166 1362,1168 M1290,1260 C1300,1250 1312,1245 1326,1246 M1262,1260 C1270,1240 1280,1225 1292,1214"/>

<!-- ================= CHECK BOX ================= -->
<rect x="1541" y="923" width="402" height="443" rx="14" fill="#fff" stroke="#111" stroke-width="6"/>
<rect x="1555" y="1008" width="370" height="252" rx="12" fill="#e3e3e3"/>
<!-- car sketch -->
<path class="s1" fill="none" d="M1690,1002 C1700,978 1720,962 1745,956 L1858,944 C1874,946 1880,958 1878,972 M1692,1004 C1704,1012 1722,1012 1740,1004 M1720,968 L1870,950 M1790,970 L1786,1002 M1830,964 L1828,996 M1862,960 L1860,985 M1748,992 C1752,1000 1760,1006 1770,1004"/>
<line x1="1722" y1="962" x2="1872" y2="944" stroke="#111" stroke-width="3"/>
<line x1="1745" y1="958" x2="1772" y2="938" stroke="#111" stroke-width="4"/>
<line x1="1800" y1="952" x2="1826" y2="932" stroke="#111" stroke-width="4"/>
<line x1="1770" y1="938" x2="1830" y2="930" stroke="#111" stroke-width="3"/>
<polygon points="1637,932 1687,1021 1587,1021" fill="#111"/>
<polygon points="1630,958 1644,958 1641,995 1633,995" fill="#fff" stroke="#fff" stroke-width="3" stroke-linejoin="round"/>
<circle cx="1637" cy="1007" r="7" fill="#fff"/>
<text class="ck" x="1625" y="1060" textLength="230" lengthAdjust="spacingAndGlyphs">Check the included</text>
<text x="1595" y="1093" font-family="Liberation Sans,Arial,sans-serif" font-weight="bold" font-size="28" textLength="292" lengthAdjust="spacingAndGlyphs">RailRider Fit Sheet</text>
<text class="ck" x="1597" y="1123" textLength="286" lengthAdjust="spacingAndGlyphs">for your vehicle’s limits.</text>
<text class="ck" x="1642" y="1175" textLength="196" lengthAdjust="spacingAndGlyphs">DO NOT EXCEED</text>
<text class="ck" x="1583" y="1207" textLength="314" lengthAdjust="spacingAndGlyphs">the maximum weight limit</text>
<text class="ck" x="1609" y="1239" textLength="261" lengthAdjust="spacingAndGlyphs">of your factory tracks.</text>
<text class="ck" x="1604" y="1302" textLength="272" lengthAdjust="spacingAndGlyphs">ALWAYS SECURE long</text>
<text class="ck" x="1579" y="1333" textLength="316" lengthAdjust="spacingAndGlyphs">loads at the front and rear.</text>
</svg>
</body>
</html>
